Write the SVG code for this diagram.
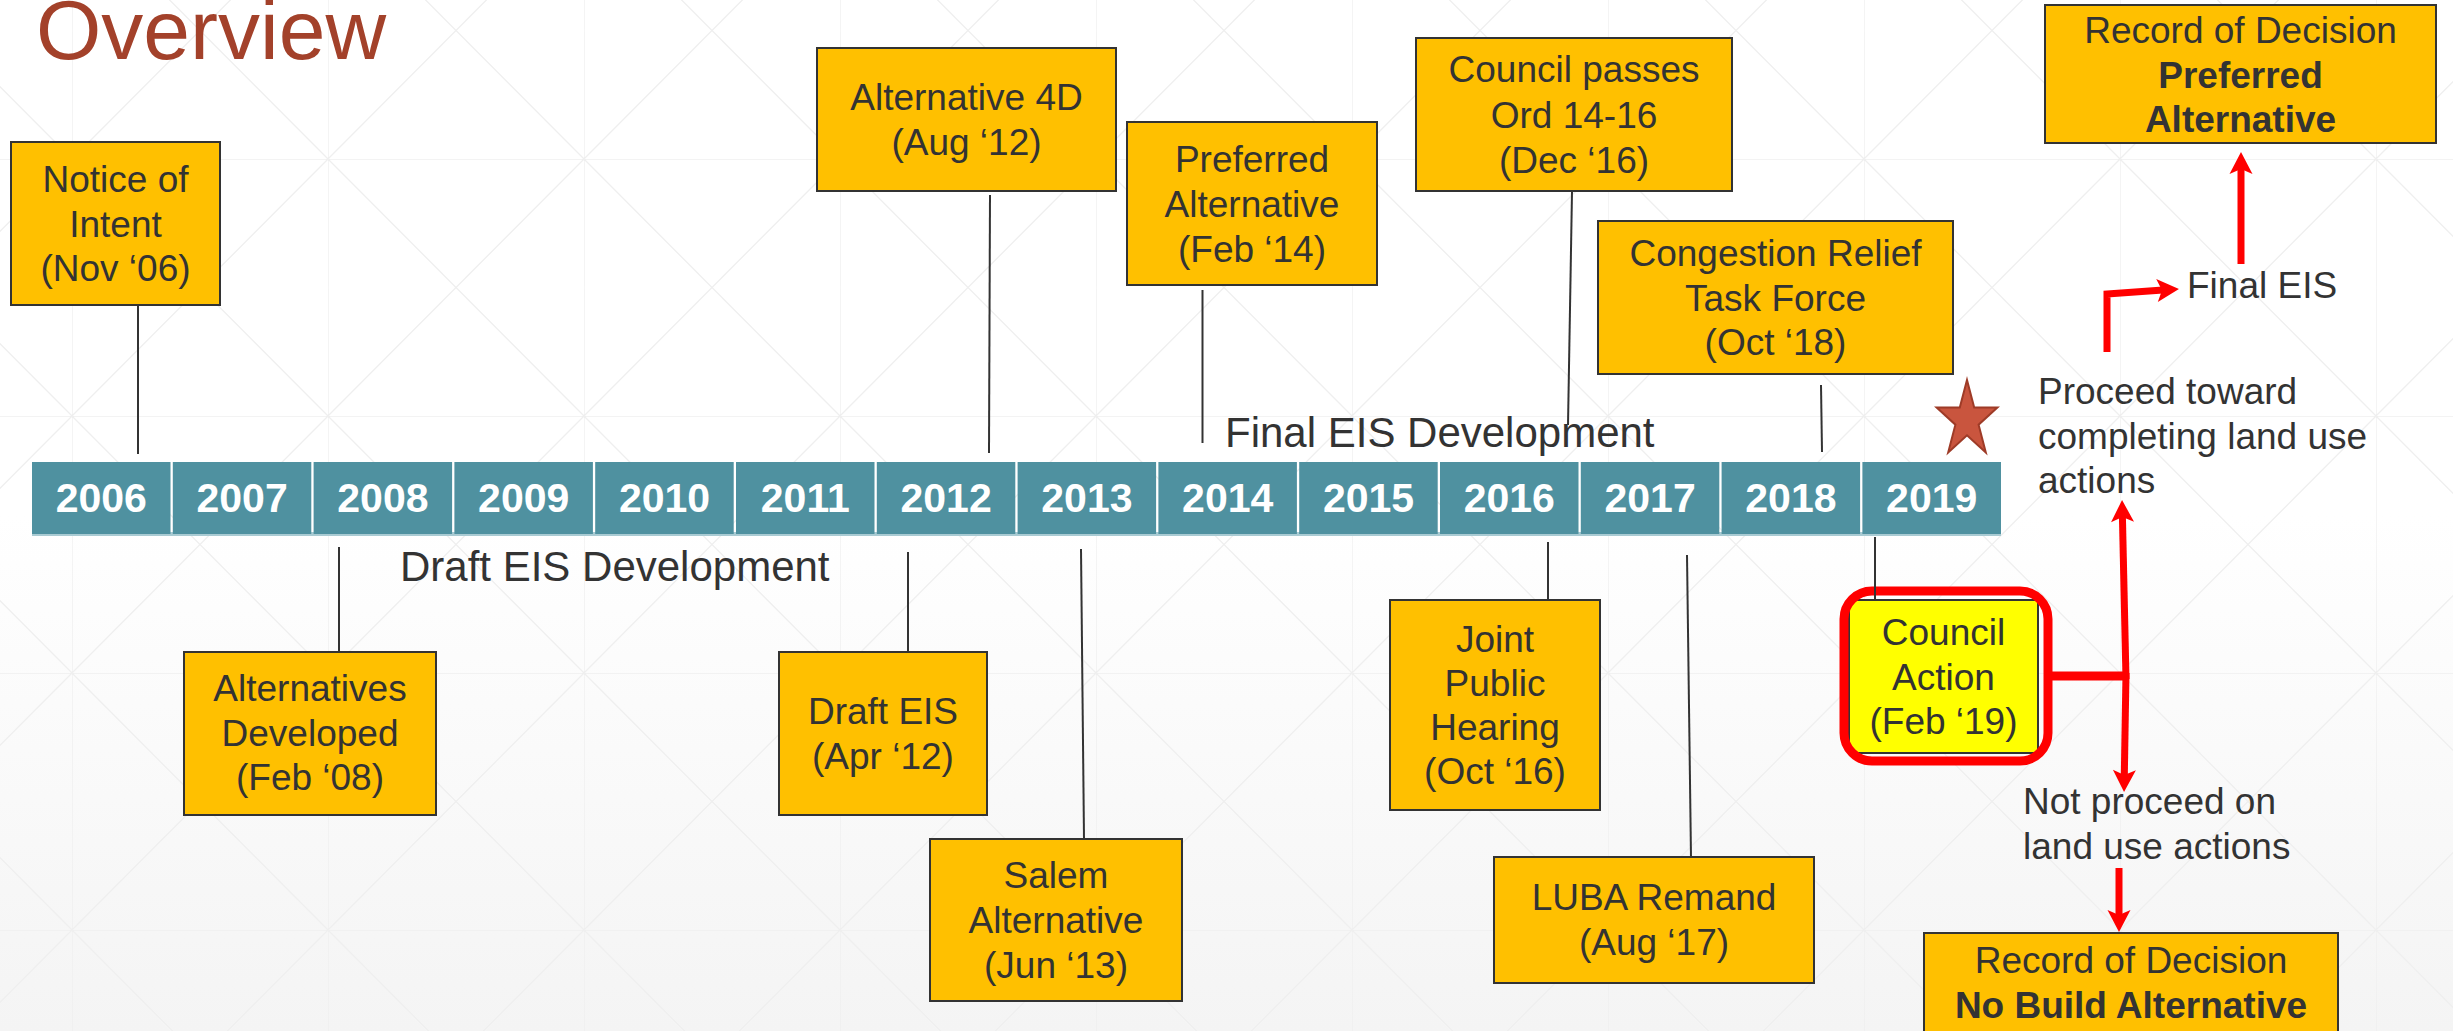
<svg xmlns="http://www.w3.org/2000/svg" width="2453" height="1031" viewBox="0 0 2453 1031">
<defs>
<linearGradient id="bg" x1="0" y1="0" x2="0" y2="1">
<stop offset="0" stop-color="#ffffff"/>
<stop offset="0.5" stop-color="#ffffff"/>
<stop offset="1" stop-color="#f4f4f4"/>
</linearGradient>
<pattern id="grid" patternUnits="userSpaceOnUse" x="72" y="159" width="256" height="257">
<path d="M0,0 V257 M0,0 H256 M0,0 L256,257 M256,0 L0,257" stroke="#efefef" stroke-width="1.3" fill="none"/>
</pattern>
<marker id="ah" markerUnits="userSpaceOnUse" markerWidth="30" markerHeight="30" viewBox="-2 -15 30 30" refX="6" refY="0" orient="auto">
<path d="M0,-11.5 L22,0 L0,11.5 L5,0 Z" fill="#ff0000"/>
</marker>
<style>
.box{fill:#FFC000;stroke:#333333;stroke-width:2}
.yel{fill:#FFFF00;stroke:#333333;stroke-width:2}
.t{font-family:"Liberation Sans",Arial,sans-serif;font-size:37px;fill:#333333}
.c{text-anchor:middle}
.b{font-weight:bold}
.big{font-family:"Liberation Sans",Arial,sans-serif;font-size:42px;fill:#333333}
.yr{font-family:"Liberation Sans",Arial,sans-serif;font-size:41px;font-weight:bold;fill:#ffffff;text-anchor:middle}
.cell{fill:#4F91A0}
.con{stroke:#333333;stroke-width:2;fill:none}
.red{stroke:#ff0000;fill:none;stroke-width:7}
</style>
</defs>
<rect x="0" y="0" width="2453" height="1031" fill="url(#bg)"/>
<rect x="0" y="0" width="2453" height="1031" fill="url(#grid)"/>

<text x="36" y="59" font-family="Liberation Sans, Arial, sans-serif" font-size="84" fill="#A3412A">Overview</text>

<g id="timeline">
<rect x="32" y="532" width="1969" height="4" fill="#A9CBD3"/>
<rect class="cell" x="32" y="462" width="138.5" height="72"/>
<rect class="cell" x="172.8" y="462" width="138.5" height="72"/>
<rect class="cell" x="313.6" y="462" width="138.5" height="72"/>
<rect class="cell" x="454.4" y="462" width="138.5" height="72"/>
<rect class="cell" x="595.2" y="462" width="138.5" height="72"/>
<rect class="cell" x="736" y="462" width="138.5" height="72"/>
<rect class="cell" x="876.8" y="462" width="138.5" height="72"/>
<rect class="cell" x="1017.6" y="462" width="138.5" height="72"/>
<rect class="cell" x="1158.4" y="462" width="138.5" height="72"/>
<rect class="cell" x="1299.2" y="462" width="138.5" height="72"/>
<rect class="cell" x="1440" y="462" width="138.5" height="72"/>
<rect class="cell" x="1580.8" y="462" width="138.5" height="72"/>
<rect class="cell" x="1721.6" y="462" width="138.5" height="72"/>
<rect class="cell" x="1862.4" y="462" width="138.6" height="72"/>
<text class="yr" x="101.3" y="512">2006</text>
<text class="yr" x="242.1" y="512">2007</text>
<text class="yr" x="382.9" y="512">2008</text>
<text class="yr" x="523.7" y="512">2009</text>
<text class="yr" x="664.5" y="512">2010</text>
<text class="yr" x="805.3" y="512">2011</text>
<text class="yr" x="946.1" y="512">2012</text>
<text class="yr" x="1086.9" y="512">2013</text>
<text class="yr" x="1227.7" y="512">2014</text>
<text class="yr" x="1368.5" y="512">2015</text>
<text class="yr" x="1509.3" y="512">2016</text>
<text class="yr" x="1650.1" y="512">2017</text>
<text class="yr" x="1790.9" y="512">2018</text>
<text class="yr" x="1931.7" y="512">2019</text>
</g>

<text class="big" x="400" y="581">Draft EIS Development</text>
<text class="big" x="1225" y="447">Final EIS Development</text>

<g id="star">
<polygon transform="translate(1967,420)" points="0,-40 7.2,-12.4 30.4,-12.4 11.6,4.7 18.8,32.4 0,15.3 -18.8,32.4 -11.6,4.7 -30.4,-12.4 -7.2,-12.4" fill="#C9553E" stroke="#9E3B27" stroke-width="2"/>
</g>

<g id="notice-of-intent">
<rect class="box" x="11" y="142" width="209" height="163"/>
<text class="t c" x="115.5" y="192">Notice of</text>
<text class="t c" x="115.5" y="237">Intent</text>
<text class="t c" x="115.5" y="281">(Nov ‘06)</text>
</g>

<g id="alternatives-developed">
<rect class="box" x="184" y="652" width="252" height="163"/>
<text class="t c" x="310" y="701">Alternatives</text>
<text class="t c" x="310" y="745.5">Developed</text>
<text class="t c" x="310" y="790">(Feb ‘08)</text>
</g>

<g id="alternative-4d">
<rect class="box" x="817" y="48" width="299" height="143"/>
<text class="t c" x="966.5" y="110">Alternative 4D</text>
<text class="t c" x="966.5" y="155">(Aug ‘12)</text>
</g>

<g id="draft-eis">
<rect class="box" x="779" y="652" width="208" height="163"/>
<text class="t c" x="883" y="724">Draft EIS</text>
<text class="t c" x="883" y="769">(Apr ‘12)</text>
</g>

<g id="salem-alternative">
<rect class="box" x="930" y="839" width="252" height="162"/>
<text class="t c" x="1056" y="888">Salem</text>
<text class="t c" x="1056" y="933">Alternative</text>
<text class="t c" x="1056" y="978">(Jun ‘13)</text>
</g>

<g id="preferred-alternative">
<rect class="box" x="1127" y="122" width="250" height="163"/>
<text class="t c" x="1252" y="172">Preferred</text>
<text class="t c" x="1252" y="217">Alternative</text>
<text class="t c" x="1252" y="262">(Feb ‘14)</text>
</g>

<g id="council-passes">
<rect class="box" x="1416" y="38" width="316" height="153"/>
<text class="t c" x="1574" y="82">Council passes</text>
<text class="t c" x="1574" y="127.5">Ord 14-16</text>
<text class="t c" x="1574" y="173">(Dec ‘16)</text>
</g>

<g id="joint-public-hearing">
<rect class="box" x="1390" y="600" width="210" height="210"/>
<text class="t c" x="1495" y="651.5">Joint</text>
<text class="t c" x="1495" y="696">Public</text>
<text class="t c" x="1495" y="740">Hearing</text>
<text class="t c" x="1495" y="784">(Oct ‘16)</text>
</g>

<g id="luba-remand">
<rect class="box" x="1494" y="857" width="320" height="126"/>
<text class="t c" x="1654" y="910">LUBA Remand</text>
<text class="t c" x="1654" y="955">(Aug ‘17)</text>
</g>

<g id="congestion-relief">
<rect class="box" x="1598" y="221" width="355" height="153"/>
<text class="t c" x="1775.5" y="266">Congestion Relief</text>
<text class="t c" x="1775.5" y="310.5">Task Force</text>
<text class="t c" x="1775.5" y="355">(Oct ‘18)</text>
</g>

<g id="council-action">
<rect class="yel" x="1849" y="600" width="189" height="153"/>
<rect x="1844" y="591" width="204" height="170" rx="28" ry="28" fill="none" stroke="#ff0000" stroke-width="9"/>
<text class="t c" x="1943.5" y="645">Council</text>
<text class="t c" x="1943.5" y="689.5">Action</text>
<text class="t c" x="1943.5" y="734">(Feb ‘19)</text>
</g>

<g id="rod-preferred">
<rect class="box" x="2045" y="5" width="391" height="138"/>
<text class="t c" x="2240.5" y="43">Record of Decision</text>
<text class="t c b" x="2240.5" y="87.5">Preferred</text>
<text class="t c b" x="2240.5" y="132">Alternative</text>
</g>

<g id="rod-no-build">
<rect class="box" x="1924" y="933" width="414" height="110"/>
<text class="t c" x="2131" y="973">Record of Decision</text>
<text class="t c b" x="2131" y="1018">No Build Alternative</text>
</g>

<g id="labels">
<text class="t" x="2187" y="298">Final EIS</text>
<text class="t" x="2038" y="404">Proceed toward</text>
<text class="t" x="2038" y="448.5">completing land use</text>
<text class="t" x="2038" y="493">actions</text>
<text class="t" x="2023" y="814">Not proceed on</text>
<text class="t" x="2023" y="859">land use actions</text>
</g>

<g id="connectors">
<line class="con" x1="138" y1="305" x2="138" y2="454"/>
<line class="con" x1="339" y1="547" x2="339" y2="652"/>
<line class="con" x1="990" y1="195" x2="989" y2="453"/>
<line class="con" x1="908" y1="552" x2="908" y2="652"/>
<line class="con" x1="1081" y1="549" x2="1084" y2="839"/>
<line class="con" x1="1202.5" y1="290" x2="1202.5" y2="443"/>
<line class="con" x1="1572" y1="192" x2="1568" y2="425"/>
<line class="con" x1="1548" y1="542" x2="1548" y2="600"/>
<line class="con" x1="1687" y1="555" x2="1691" y2="857"/>
<line class="con" x1="1821" y1="385" x2="1822" y2="452"/>
<line class="con" x1="1875" y1="537" x2="1875" y2="600"/>
<line x1="2049" y1="676" x2="2129" y2="676" stroke="#ff0000" stroke-width="9"/>
<path class="red" stroke-width="6.5" d="M2126,679 L2122.4,516" marker-end="url(#ah)"/>
<path class="red" stroke-width="6.5" d="M2126,673 L2124.3,776" marker-end="url(#ah)"/>
<path class="red" d="M2119,868 L2119,916" marker-end="url(#ah)"/>
<path class="red" d="M2107,352 L2107,294 L2163,290.1" marker-end="url(#ah)"/>
<path class="red" d="M2241,264 L2241,168" marker-end="url(#ah)"/>
</g>
</svg>
